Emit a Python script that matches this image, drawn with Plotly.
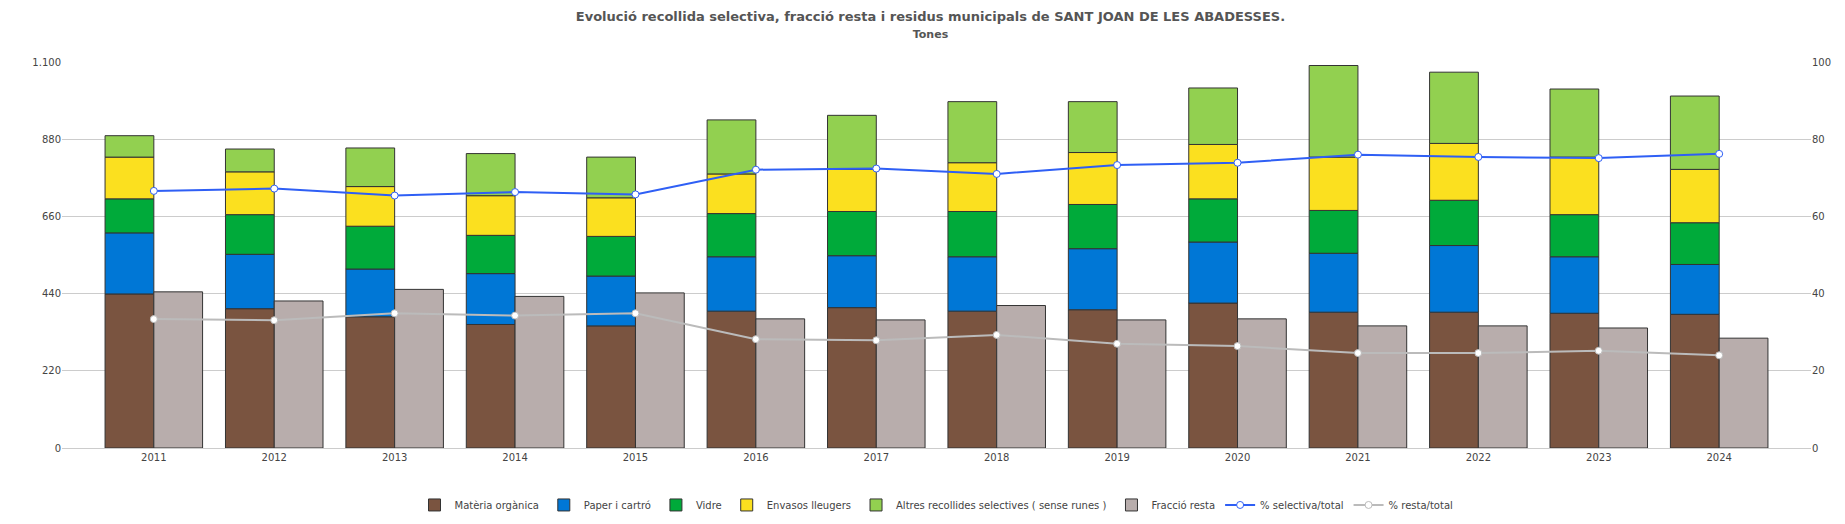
import numpy as np
import plotly.graph_objects as go

anys = [str(a) for a in range(2011, 2025)]
organica = [439, 397, 374, 352, 348, 390, 400, 390, 394, 413, 387, 387, 384, 381]
paper = [174, 155, 136, 145, 142, 155, 148, 155, 174, 174, 168, 190, 161, 142]
vidre = [97, 113, 122, 109, 113, 123, 126, 129, 126, 123, 122, 129, 120, 119]
envasos = [119, 122, 113, 113, 110, 113, 120, 139, 148, 155, 152, 162, 164, 152]
altres = [61, 65, 110, 120, 116, 154, 154, 174, 145, 161, 261, 203, 194, 209]
resta = [445, 419, 452, 432, 442, 368, 365, 406, 365, 368, 348, 348, 342, 313]
pct_sel = [66.6, 67.2, 65.4, 66.3, 65.7, 72.1, 72.4, 71.0, 73.3, 73.9, 76.0, 75.4, 75.1, 76.2]
pct_resta = [33.4, 33.1, 34.9, 34.3, 34.9, 28.2, 27.9, 29.3, 27.0, 26.4, 24.6, 24.6, 25.2, 24.0]

series = [
    ("Matèria orgànica", organica, "#7a5440"),
    ("Paper i cartró", paper, "#0077d6"),
    ("Vidre", vidre, "#00aa3a"),
    ("Envasos lleugers", envasos, "#fbe01f"),
    ("Altres recollides selectives ( sense runes )", altres, "#92d050"),
]

fig = go.Figure()
base = np.zeros(len(anys))
for nom, vals, col in series:
    fig.add_bar(x=anys, y=vals, base=base.copy(), name=nom, offsetgroup="sel",
                marker=dict(color=col, line=dict(color="#333", width=1)))
    base += np.array(vals)
fig.add_bar(x=anys, y=resta, name="Fracció resta", offsetgroup="resta",
            marker=dict(color="#b8adac", line=dict(color="#333", width=1)))
fig.add_scatter(x=anys, y=pct_sel, name="% selectiva/total", yaxis="y2", mode="lines+markers",
                line=dict(color="#2f5ff5", width=2),
                marker=dict(color="white", size=7, line=dict(color="#2f5ff5", width=1)))
fig.add_scatter(x=anys, y=pct_resta, name="% resta/total", yaxis="y2", mode="lines+markers",
                line=dict(color="#bbbbbb", width=2),
                marker=dict(color="white", size=7, line=dict(color="#bbbbbb", width=1)))

fig.update_layout(
    width=1845, height=524,
    margin=dict(l=54, r=42, t=54, b=69),
    plot_bgcolor="white", paper_bgcolor="white",
    font=dict(family="DejaVu Sans", size=10, color="#444"),
    barmode="group", bargap=0.19, bargroupgap=0,
    title=dict(text="<b>Evolució recollida selectiva, fracció resta i residus municipals de SANT JOAN DE LES ABADESSES.</b>"
                    "<br><span style='font-size:11px'><b>Tones</b></span>",
               x=0.5, y=0.975, xanchor="center", yanchor="top", font=dict(size=13, color="#555")),
    xaxis=dict(showgrid=False, showline=True, linecolor="#ccc", ticks=""),
    yaxis=dict(range=[0, 1100], tickvals=[0, 220, 440, 660, 880, 1100],
               ticktext=["0", "220", "440", "660", "880", "1.100"],
               gridcolor="#ccc", zeroline=False),
    yaxis2=dict(range=[0, 100], tickvals=[0, 20, 40, 60, 80, 100], overlaying="y",
                side="right", showgrid=False, zeroline=False),
    legend=dict(orientation="h", x=0.5, xanchor="center", y=-0.11, yanchor="top",
                font=dict(size=10), traceorder="normal"),
)
fig.write_html("out.html")
